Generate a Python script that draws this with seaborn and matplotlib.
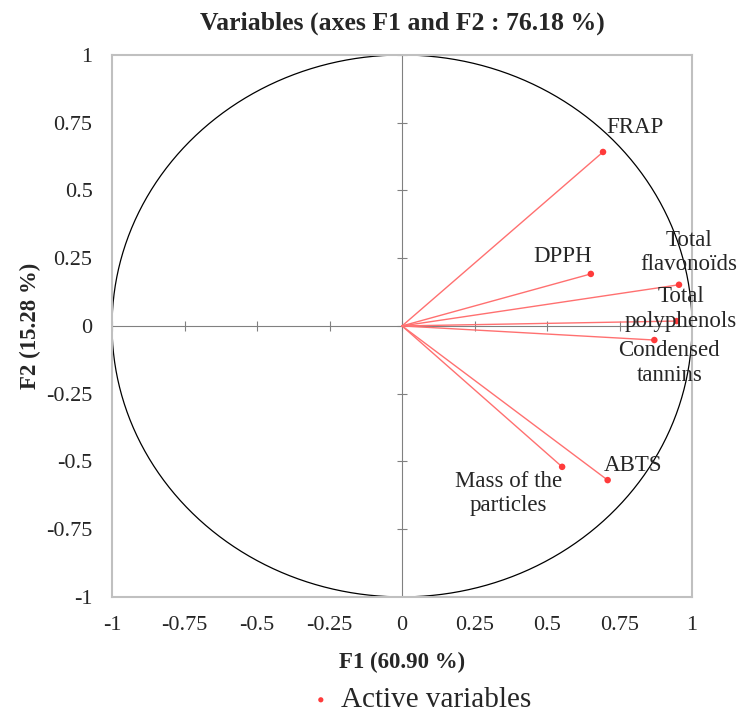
import numpy as np
import pandas as pd
import matplotlib
matplotlib.use('Agg')
import matplotlib.pyplot as plt
import seaborn as sns

sns.set_style('white')
plt.rcParams['font.family'] = ['Liberation Serif', 'DejaVu Serif']

# Dados (coordenadas das variáveis no círculo de correlação)
variables = ['FRAP', 'DPPH', 'Total\nflavonoïds', 'Total\npolyphenols',
             'Condensed\ntannins', 'ABTS', 'Mass of the\nparticles']
f1 = [0.693, 0.651, 0.955, 0.947, 0.870, 0.709, 0.552]
f2 = [0.642, 0.192, 0.152, 0.018, -0.052, -0.569, -0.520]
ticks = [-1, -0.75, -0.5, -0.25, 0, 0.25, 0.5, 0.75, 1]
tick_labels = ['-1', '-0.75', '-0.5', '-0.25', '0', '0.25', '0.5', '0.75', '1']

# deslocamento dos rótulos (pixels)
offsets = {'FRAP': (32, 24), 'DPPH': (-28, 17), 'Total\nflavonoïds': (10, 32),
           'Total\npolyphenols': (4, 12), 'Condensed\ntannins': (15, -23),
           'ABTS': (25, 15), 'Mass of the\nparticles': (-54, -27)}

df = pd.DataFrame({'var': variables, 'F1': f1, 'F2': f2})

fig = plt.figure(figsize=(7.4, 7.14), dpi=100)
ax = fig.add_axes([0.1514, 0.164, 0.7838, 0.759])

# círculo
t = np.linspace(0, 2 * np.pi, 400)
ax.plot(np.cos(t), np.sin(t), color='black', lw=0.9, zorder=1)

# eixos centrais
ax.axhline(0, color='#808080', lw=0.8, zorder=1)
ax.axvline(0, color='#808080', lw=0.8, zorder=1)
ax.plot(ticks, np.zeros(len(ticks)), ls='none', marker='|', ms=7, color='#808080', mew=0.8)
ax.plot(np.zeros(len(ticks)), ticks, ls='none', marker='_', ms=7, color='#808080', mew=0.8)

# vetores
for _, r in df.iterrows():
    ax.plot([0, r['F1']], [0, r['F2']], color='#ff7070', lw=1.0, zorder=2)

sns.scatterplot(data=df, x='F1', y='F2', color='#ff3b3b', s=22, edgecolor='none',
                ax=ax, zorder=3, label='Active variables')

for _, r in df.iterrows():
    dx, dy = offsets[r['var']]
    ax.annotate(r['var'], (r['F1'], r['F2']), xytext=(dx, dy), textcoords='offset pixels',
                ha='center', va='center', fontsize=16.5, linespacing=1.2, zorder=4)

ax.set_xlim(-1, 1)
ax.set_ylim(-1, 1)
ax.set_xticks(ticks)
ax.set_xticklabels(tick_labels)
ax.set_yticks(ticks)
ax.set_yticklabels(tick_labels)
ax.tick_params(length=0, labelsize=16, pad=14)
for s in ax.spines.values():
    s.set_color('#c0c0c0')
    s.set_linewidth(1.5)

ax.set_xlabel('F1 (60.90 %)', fontsize=16.5, fontweight='bold', labelpad=12)
ax.set_ylabel('F2 (15.28 %)', fontsize=16.5, fontweight='bold', labelpad=4)
ax.set_title('Variables (axes F1 and F2 : 76.18 %)', fontsize=18.5, fontweight='bold', pad=18)

h, l = ax.get_legend_handles_labels()
ax.legend_.remove()
fig.legend(h, l, loc='lower center', bbox_to_anchor=(0.568, -0.036), frameon=False,
           fontsize=21, handlelength=0.8, handletextpad=0.3, markerscale=0.8)

fig.savefig('out.png', dpi=100)
